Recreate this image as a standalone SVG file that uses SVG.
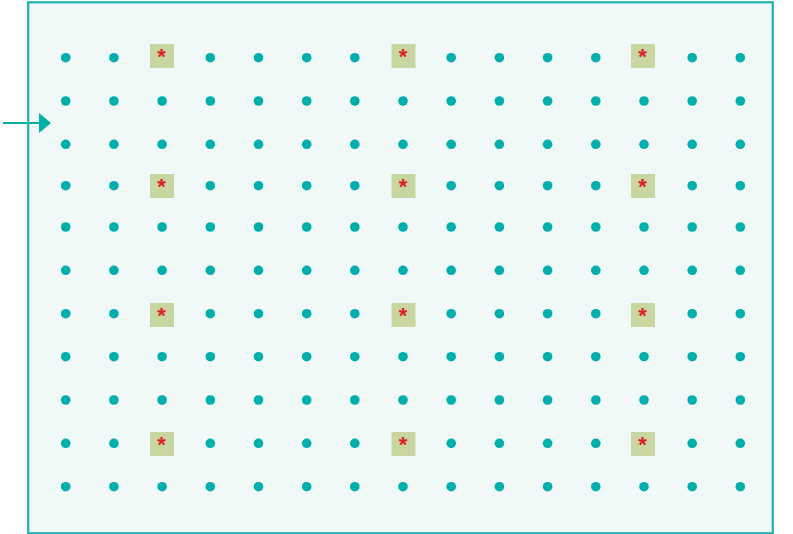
<svg xmlns="http://www.w3.org/2000/svg" width="793" height="534" viewBox="0 0 793 534">
<defs>
<style>
.frame{fill:#f0f8f8;stroke:#1ab2b0;stroke-width:2.2}
.d{fill:#00aeaa}
.box{fill:#c8d6a0}
.st{fill:#dc1f26;font-family:"Liberation Sans",Arial,sans-serif;font-weight:bold;font-size:22px;text-anchor:middle}
.conn{stroke:#00aeaa;stroke-width:2.2;fill:none}
</style>
<marker id="ah" viewBox="0 0 12 20" refX="0" refY="10" markerWidth="12" markerHeight="20" markerUnits="userSpaceOnUse" orient="auto">
<path d="M0,0 L12,10 L0,20 Z" fill="#00aeaa"/>
</marker>
<circle id="dot" r="4.8" class="d"/>
<g id="mk"><rect x="-12" y="-12" width="24" height="24" class="box"/><text x="-0.5" y="8" class="st">*</text></g>
</defs>
<rect class="frame" x="28.2" y="2.3" width="744.6" height="531"/>
<g id="connectors">
<line class="conn" x1="3" y1="123" x2="39" y2="123" marker-end="url(#ah)"/>
</g>
<g id="grid">
<g id="row0">
<use href="#dot" x="65.7" y="57.7"/><use href="#dot" x="113.9" y="57.7"/><use href="#mk" x="162" y="56"/><use href="#dot" x="210.3" y="57.7"/><use href="#dot" x="258.5" y="57.7"/><use href="#dot" x="306.7" y="57.7"/><use href="#dot" x="354.8" y="57.7"/><use href="#mk" x="403.5" y="56"/><use href="#dot" x="451.2" y="57.7"/><use href="#dot" x="499.4" y="57.7"/><use href="#dot" x="547.6" y="57.7"/><use href="#dot" x="595.8" y="57.7"/><use href="#mk" x="643" y="56"/><use href="#dot" x="692.2" y="57.7"/><use href="#dot" x="740.3" y="57.7"/>
</g>
<g id="row1">
<use href="#dot" x="65.7" y="101"/><use href="#dot" x="113.9" y="101"/><use href="#dot" x="162.1" y="101"/><use href="#dot" x="210.3" y="101"/><use href="#dot" x="258.5" y="101"/><use href="#dot" x="306.7" y="101"/><use href="#dot" x="354.8" y="101"/><use href="#dot" x="403" y="101"/><use href="#dot" x="451.2" y="101"/><use href="#dot" x="499.4" y="101"/><use href="#dot" x="547.6" y="101"/><use href="#dot" x="595.8" y="101"/><use href="#dot" x="644" y="101"/><use href="#dot" x="692.2" y="101"/><use href="#dot" x="740.3" y="101"/>
</g>
<g id="row2">
<use href="#dot" x="65.7" y="144.3"/><use href="#dot" x="113.9" y="144.3"/><use href="#dot" x="162.1" y="144.3"/><use href="#dot" x="210.3" y="144.3"/><use href="#dot" x="258.5" y="144.3"/><use href="#dot" x="306.7" y="144.3"/><use href="#dot" x="354.8" y="144.3"/><use href="#dot" x="403" y="144.3"/><use href="#dot" x="451.2" y="144.3"/><use href="#dot" x="499.4" y="144.3"/><use href="#dot" x="547.6" y="144.3"/><use href="#dot" x="595.8" y="144.3"/><use href="#dot" x="644" y="144.3"/><use href="#dot" x="692.2" y="144.3"/><use href="#dot" x="740.3" y="144.3"/>
</g>
<g id="row3">
<use href="#dot" x="65.7" y="185.7"/><use href="#dot" x="113.9" y="185.7"/><use href="#mk" x="162" y="186"/><use href="#dot" x="210.3" y="185.7"/><use href="#dot" x="258.5" y="185.7"/><use href="#dot" x="306.7" y="185.7"/><use href="#dot" x="354.8" y="185.7"/><use href="#mk" x="403.5" y="186"/><use href="#dot" x="451.2" y="185.7"/><use href="#dot" x="499.4" y="185.7"/><use href="#dot" x="547.6" y="185.7"/><use href="#dot" x="595.8" y="185.7"/><use href="#mk" x="643" y="186"/><use href="#dot" x="692.2" y="185.7"/><use href="#dot" x="740.3" y="185.7"/>
</g>
<g id="row4">
<use href="#dot" x="65.7" y="227"/><use href="#dot" x="113.9" y="227"/><use href="#dot" x="162.1" y="227"/><use href="#dot" x="210.3" y="227"/><use href="#dot" x="258.5" y="227"/><use href="#dot" x="306.7" y="227"/><use href="#dot" x="354.8" y="227"/><use href="#dot" x="403" y="227"/><use href="#dot" x="451.2" y="227"/><use href="#dot" x="499.4" y="227"/><use href="#dot" x="547.6" y="227"/><use href="#dot" x="595.8" y="227"/><use href="#dot" x="644" y="227"/><use href="#dot" x="692.2" y="227"/><use href="#dot" x="740.3" y="227"/>
</g>
<g id="row5">
<use href="#dot" x="65.7" y="270.3"/><use href="#dot" x="113.9" y="270.3"/><use href="#dot" x="162.1" y="270.3"/><use href="#dot" x="210.3" y="270.3"/><use href="#dot" x="258.5" y="270.3"/><use href="#dot" x="306.7" y="270.3"/><use href="#dot" x="354.8" y="270.3"/><use href="#dot" x="403" y="270.3"/><use href="#dot" x="451.2" y="270.3"/><use href="#dot" x="499.4" y="270.3"/><use href="#dot" x="547.6" y="270.3"/><use href="#dot" x="595.8" y="270.3"/><use href="#dot" x="644" y="270.3"/><use href="#dot" x="692.2" y="270.3"/><use href="#dot" x="740.3" y="270.3"/>
</g>
<g id="row6">
<use href="#dot" x="65.7" y="313.7"/><use href="#dot" x="113.9" y="313.7"/><use href="#mk" x="162" y="315"/><use href="#dot" x="210.3" y="313.7"/><use href="#dot" x="258.5" y="313.7"/><use href="#dot" x="306.7" y="313.7"/><use href="#dot" x="354.8" y="313.7"/><use href="#mk" x="403.5" y="315"/><use href="#dot" x="451.2" y="313.7"/><use href="#dot" x="499.4" y="313.7"/><use href="#dot" x="547.6" y="313.7"/><use href="#dot" x="595.8" y="313.7"/><use href="#mk" x="643" y="315"/><use href="#dot" x="692.2" y="313.7"/><use href="#dot" x="740.3" y="313.7"/>
</g>
<g id="row7">
<use href="#dot" x="65.7" y="356.7"/><use href="#dot" x="113.9" y="356.7"/><use href="#dot" x="162.1" y="356.7"/><use href="#dot" x="210.3" y="356.7"/><use href="#dot" x="258.5" y="356.7"/><use href="#dot" x="306.7" y="356.7"/><use href="#dot" x="354.8" y="356.7"/><use href="#dot" x="403" y="356.7"/><use href="#dot" x="451.2" y="356.7"/><use href="#dot" x="499.4" y="356.7"/><use href="#dot" x="547.6" y="356.7"/><use href="#dot" x="595.8" y="356.7"/><use href="#dot" x="644" y="356.7"/><use href="#dot" x="692.2" y="356.7"/><use href="#dot" x="740.3" y="356.7"/>
</g>
<g id="row8">
<use href="#dot" x="65.7" y="400"/><use href="#dot" x="113.9" y="400"/><use href="#dot" x="162.1" y="400"/><use href="#dot" x="210.3" y="400"/><use href="#dot" x="258.5" y="400"/><use href="#dot" x="306.7" y="400"/><use href="#dot" x="354.8" y="400"/><use href="#dot" x="403" y="400"/><use href="#dot" x="451.2" y="400"/><use href="#dot" x="499.4" y="400"/><use href="#dot" x="547.6" y="400"/><use href="#dot" x="595.8" y="400"/><use href="#dot" x="644" y="400"/><use href="#dot" x="692.2" y="400"/><use href="#dot" x="740.3" y="400"/>
</g>
<g id="row9">
<use href="#dot" x="65.7" y="443.3"/><use href="#dot" x="113.9" y="443.3"/><use href="#mk" x="162" y="444"/><use href="#dot" x="210.3" y="443.3"/><use href="#dot" x="258.5" y="443.3"/><use href="#dot" x="306.7" y="443.3"/><use href="#dot" x="354.8" y="443.3"/><use href="#mk" x="403.5" y="444"/><use href="#dot" x="451.2" y="443.3"/><use href="#dot" x="499.4" y="443.3"/><use href="#dot" x="547.6" y="443.3"/><use href="#dot" x="595.8" y="443.3"/><use href="#mk" x="643" y="444"/><use href="#dot" x="692.2" y="443.3"/><use href="#dot" x="740.3" y="443.3"/>
</g>
<g id="row10">
<use href="#dot" x="65.7" y="486.7"/><use href="#dot" x="113.9" y="486.7"/><use href="#dot" x="162.1" y="486.7"/><use href="#dot" x="210.3" y="486.7"/><use href="#dot" x="258.5" y="486.7"/><use href="#dot" x="306.7" y="486.7"/><use href="#dot" x="354.8" y="486.7"/><use href="#dot" x="403" y="486.7"/><use href="#dot" x="451.2" y="486.7"/><use href="#dot" x="499.4" y="486.7"/><use href="#dot" x="547.6" y="486.7"/><use href="#dot" x="595.8" y="486.7"/><use href="#dot" x="644" y="486.7"/><use href="#dot" x="692.2" y="486.7"/><use href="#dot" x="740.3" y="486.7"/>
</g>
</g>
</svg>
